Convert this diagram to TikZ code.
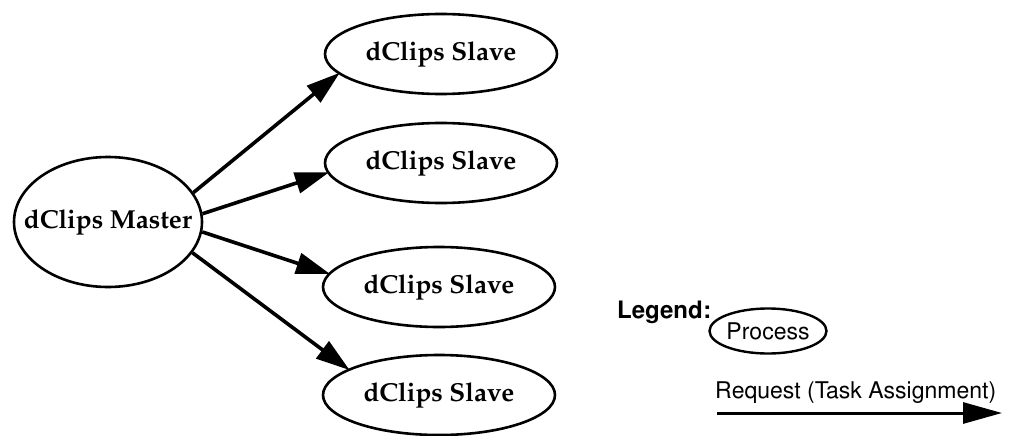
\documentclass[tikz,border=0pt]{standalone}
\usepackage[T1]{fontenc}
\usetikzlibrary{shapes.geometric,arrows.meta}
\tikzset{
  procnode/.style={draw, ellipse, line width=2.6pt, inner sep=0pt,
    font=\fontfamily{ppl}\fontsize{26}{30}\bfseries\selectfont},
  slavenode/.style={procnode, minimum width=232pt, minimum height=80pt},
  reqarrow/.style={line width=3.6pt, -{Triangle[length=34pt,width=21pt]}, shorten >=-2pt},
  legtext/.style={inner sep=0pt, font=\fontfamily{phv}\fontsize{23}{27}\selectfont},
}
\begin{document}
\begin{tikzpicture}[x=1pt,y=-1pt]
\useasboundingbox (0,0) rectangle (1014,436);
\node[procnode, minimum width=188pt, minimum height=130pt] (m) at (108,222) {\makebox[0pt]{dClips Master}};
\node[slavenode] (s1) at (441,54) {\makebox[0pt]{dClips Slave}};
\node[slavenode] (s2) at (441,163) {\makebox[0pt]{dClips Slave}};
\node[slavenode] (s3) at (439,287) {\makebox[0pt]{dClips Slave}};
\node[slavenode] (s4) at (439,395) {\makebox[0pt]{dClips Slave}};
\draw[reqarrow] (m.19) -- (s1.191.5);
\draw[reqarrow] (m.5.5) -- (s2.185);
\draw[reqarrow] (m.-6.7) -- (s3.173);
\draw[reqarrow] (m.-20) -- (s4.164.6);
% legend
\node[legtext, anchor=base west, font=\fontfamily{phv}\fontsize{24}{28}\bfseries\selectfont] (leg) at (617,318) {Legend:};
\node[draw, ellipse, line width=2.4pt, inner sep=0pt, minimum width=117pt, minimum height=45pt, legtext] (proc) at (768,331) {\makebox[0pt]{Process}};
\node[legtext, anchor=base west] (req) at (715,398) {Request (Task Assignment)};
\coordinate (la) at (717,413);
\coordinate (lb) at (1002,413);
\draw[line width=3pt, -{Triangle[length=39pt,width=21pt]}] (la) -- (lb);
\end{tikzpicture}
\end{document}
